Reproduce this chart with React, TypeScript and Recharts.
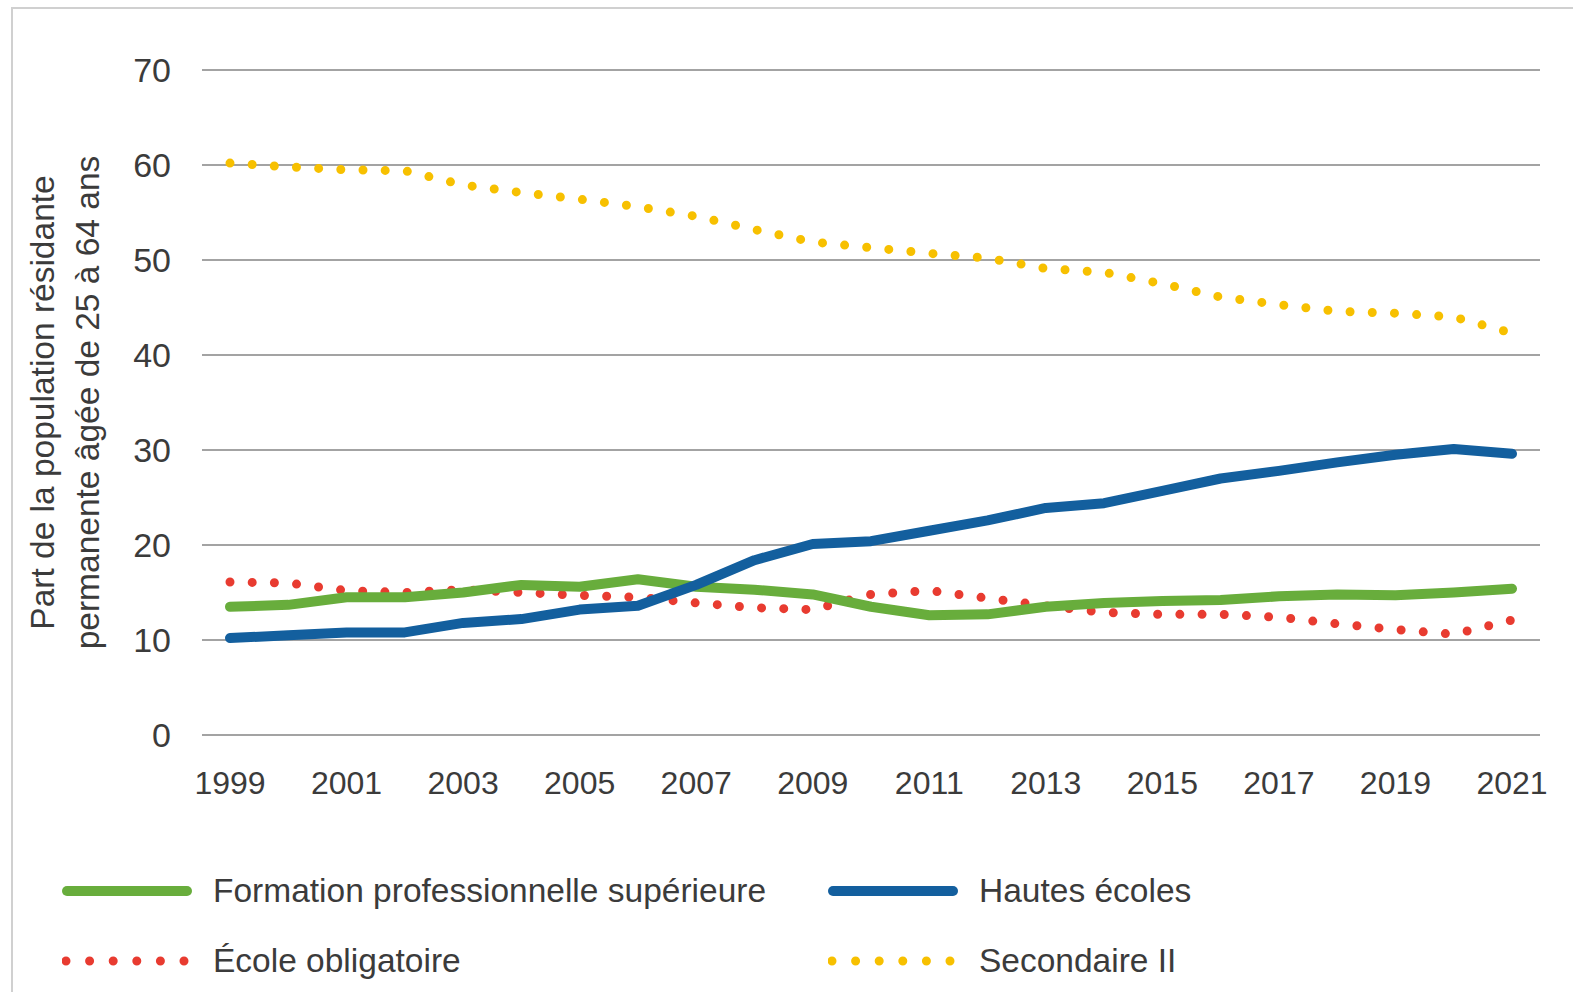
import React from 'react';
import { LineChart, Line, XAxis, YAxis, CartesianGrid } from 'recharts';

const years = [
  1999, 2000, 2001, 2002, 2003, 2004, 2005, 2006, 2007, 2008, 2009, 2010,
  2011, 2012, 2013, 2014, 2015, 2016, 2017, 2018, 2019, 2020, 2021,
];
const formationPro = [
  13.5, 13.7, 14.5, 14.5, 15.0, 15.8, 15.6, 16.4, 15.6, 15.3, 14.8, 13.5,
  12.6, 12.7, 13.5, 13.9, 14.1, 14.2, 14.6, 14.8, 14.7, 15.0, 15.4,
];
const hautesEcoles = [
  10.2, 10.5, 10.8, 10.8, 11.8, 12.2, 13.2, 13.6, 15.8, 18.4, 20.1, 20.4,
  21.5, 22.6, 23.9, 24.4, 25.7, 27.0, 27.8, 28.7, 29.5, 30.1, 29.6,
];
const ecoleObligatoire = [
  16.1, 16.0, 15.2, 15.0, 15.3, 15.0, 14.7, 14.5, 13.9, 13.4, 13.2, 14.8,
  15.2, 14.4, 13.6, 12.9, 12.7, 12.7, 12.4, 11.7, 11.1, 10.6, 12.1,
];
const secondaireII = [
  60.2, 59.8, 59.5, 59.4, 57.9, 57.1, 56.4, 55.6, 54.6, 53.2, 51.9, 51.3,
  50.7, 50.2, 49.1, 48.7, 47.5, 46.1, 45.3, 44.6, 44.4, 44.0, 42.3,
];
const yTicks = [0, 10, 20, 30, 40, 50, 60, 70];
const yTitle = ['Part de la population résidante', 'permanente âgée de 25 à 64 ans'];

const GREEN = '#68ad3c';
const BLUE = '#135f9e';
const RED = '#e83b30';
const YELLOW = '#f7c000';
const TEXT = '#3b3b3b';
const FONT = '"Liberation Sans", Arial, sans-serif';

const data = years.map((year, i) => ({
  year,
  formation: formationPro[i],
  hautes: hautesEcoles[i],
  obligatoire: ecoleObligatoire[i],
  secondaire: secondaireII[i],
}));

const legendItems = [
  { label: 'Formation professionnelle supérieure', color: GREEN, dotted: false },
  { label: 'Hautes écoles', color: BLUE, dotted: false },
  { label: 'École obligatoire', color: RED, dotted: true },
  { label: 'Secondaire II', color: YELLOW, dotted: true },
];

const YTitle = (props: any) => {
  const vb = props.viewBox || {};
  const cy = (vb.y ?? 0) + (vb.height ?? 0) / 2;
  return (
    <g>
      {yTitle.map((line, i) => (
        <text
          key={line}
          x={0}
          y={0}
          transform={`translate(${54 + i * 45}, ${cy}) rotate(-90)`}
          textAnchor="middle"
          fontSize={33.5}
          fill={TEXT}
          fontFamily={FONT}
        >
          {line}
        </text>
      ))}
    </g>
  );
};

const Swatch: React.FC<{ color: string; dotted: boolean }> = ({ color, dotted }) => (
  <svg width={130} height={20} style={{ display: 'block' }}>
    {dotted ? (
      <line x1={4} y1={10} x2={126} y2={10} stroke={color} strokeWidth={9}
        strokeLinecap="round" strokeDasharray="0 23.6" />
    ) : (
      <line x1={5} y1={10} x2={125} y2={10} stroke={color} strokeWidth={10} strokeLinecap="round" />
    )}
  </svg>
);

const App: React.FC = () => (
  <div style={{ position: 'absolute', left: 0, top: 0, width: 1573, height: 992, background: '#fff', overflow: 'hidden' }}>
    <div style={{ position: 'absolute', left: 11, top: 7, width: 1600, height: 1000, borderLeft: '2px solid #d0d0d0', borderTop: '2px solid #d0d0d0' }} />
    <div style={{ position: 'absolute', left: 0, top: 0 }}>
      <LineChart width={1573} height={850} data={data} margin={{ top: 70, right: 33, bottom: 65, left: 102 }}>
        <CartesianGrid vertical={false} stroke="#a3a3a3" strokeWidth={2} />
        <XAxis
          dataKey="year"
          interval={1}
          axisLine={false}
          tickLine={false}
          padding={{ left: 28, right: 28 }}
          height={50}
          tickMargin={30}
          tick={{ fontSize: 32, fill: TEXT, fontFamily: FONT }}
        />
        <YAxis
          domain={[0, 70]}
          ticks={yTicks}
          width={100}
          axisLine={false}
          tickLine={false}
          tickMargin={25}
          tick={{ fontSize: 34, fill: TEXT, fontFamily: FONT }}
          label={<YTitle />}
        />
        <Line dataKey="secondaire" stroke={YELLOW} strokeWidth={9} strokeLinecap="round"
          strokeDasharray="0 22.2" dot={false} isAnimationActive={false} />
        <Line dataKey="obligatoire" stroke={RED} strokeWidth={9} strokeLinecap="round"
          strokeDasharray="0 22.2" dot={false} isAnimationActive={false} />
        <Line dataKey="formation" stroke={GREEN} strokeWidth={10} strokeLinecap="round"
          strokeLinejoin="round" dot={false} isAnimationActive={false} />
        <Line dataKey="hautes" stroke={BLUE} strokeWidth={10} strokeLinecap="round"
          strokeLinejoin="round" dot={false} isAnimationActive={false} />
      </LineChart>
    </div>
    <div
      style={{
        position: 'absolute',
        left: 62,
        top: 869,
        display: 'grid',
        gridTemplateColumns: '766px 500px',
        rowGap: 26,
        fontFamily: FONT,
        fontSize: 33.5,
        color: TEXT,
      }}
    >
      {legendItems.map((it) => (
        <div key={it.label} style={{ display: 'flex', alignItems: 'center', height: 44 }}>
          <Swatch color={it.color} dotted={it.dotted} />
          <span style={{ marginLeft: 21 }}>{it.label}</span>
        </div>
      ))}
    </div>
  </div>
);

export default App;
